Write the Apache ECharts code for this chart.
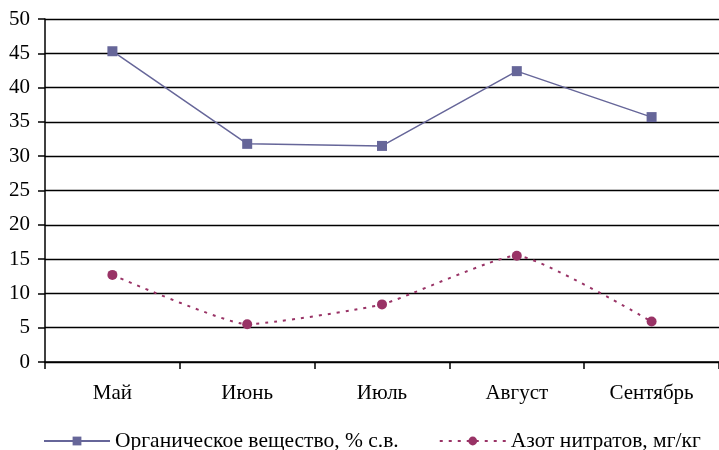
<!DOCTYPE html>
<html>
<head>
<meta charset="utf-8">
<script src="https://cdn.jsdelivr.net/npm/echarts@6/dist/echarts.min.js"></script>
<style>
  html, body { margin: 0; padding: 0; background: #fff; }
  #chart { width: 719px; height: 450px; }
</style>
</head>
<body>
<div id="chart"></div>
<script>
// Months of the sampling season
const months = ['Май', 'Июнь', 'Июль', 'Август', 'Сентябрь'];
// Organic matter, % of dry weight
const organicMatter = [45.3, 31.8, 31.5, 42.4, 35.7];
// Nitrate nitrogen, mg/kg
const nitrateNitrogen = [12.7, 5.5, 8.4, 15.5, 5.9];
const seriesNames = ['Органическое вещество, % с.в.', 'Азот нитратов, мг/кг'];

const font = 'Liberation Serif, Times New Roman, serif';
const axisFontSize = 21;
const legendFontSize = 21.5;
const chart = echarts.init(document.getElementById('chart'));

chart.setOption({
  animation: false,
  textStyle: { fontFamily: font, color: '#000' },
  grid: { left: 45, right: -5, top: 19, bottom: 88, containLabel: false },
  legend: {
    top: 425,
    left: 38,
    itemWidth: 66,
    itemHeight: 11,
    itemGap: 40,
    textStyle: { fontFamily: font, fontSize: legendFontSize, color: '#000' },
    data: seriesNames
  },
  xAxis: {
    type: 'category',
    data: months,
    boundaryGap: true,
    axisLine: { lineStyle: { color: '#000', width: 1.5 } },
    axisTick: { show: true, length: 7, lineStyle: { color: '#000', width: 1.5 } },
    axisLabel: { fontFamily: font, fontSize: axisFontSize, color: '#000', margin: 21 },
    splitLine: { show: false }
  },
  yAxis: {
    type: 'value',
    min: 0,
    max: 50,
    interval: 5,
    axisLine: { show: true, lineStyle: { color: '#000', width: 1.5 } },
    axisTick: { show: true, length: 7, lineStyle: { color: '#000', width: 1.5 } },
    axisLabel: { fontFamily: font, fontSize: axisFontSize, color: '#000', margin: 15 },
    splitLine: { show: true, lineStyle: { color: '#000', width: 1.3 } }
  },
  series: [
    {
      name: seriesNames[0],
      type: 'line',
      data: organicMatter,
      symbol: 'rect',
      symbolSize: 10,
      itemStyle: { color: '#666699' },
      lineStyle: { color: '#666699', width: 1.5 }
    },
    {
      name: seriesNames[1],
      type: 'line',
      data: nitrateNitrogen,
      smooth: 0.15,
      symbol: 'circle',
      symbolSize: 10,
      itemStyle: { color: '#993366' },
      lineStyle: { color: '#993366', width: 2, type: [3, 6] }
    }
  ]
});
</script>
</body>
</html>
